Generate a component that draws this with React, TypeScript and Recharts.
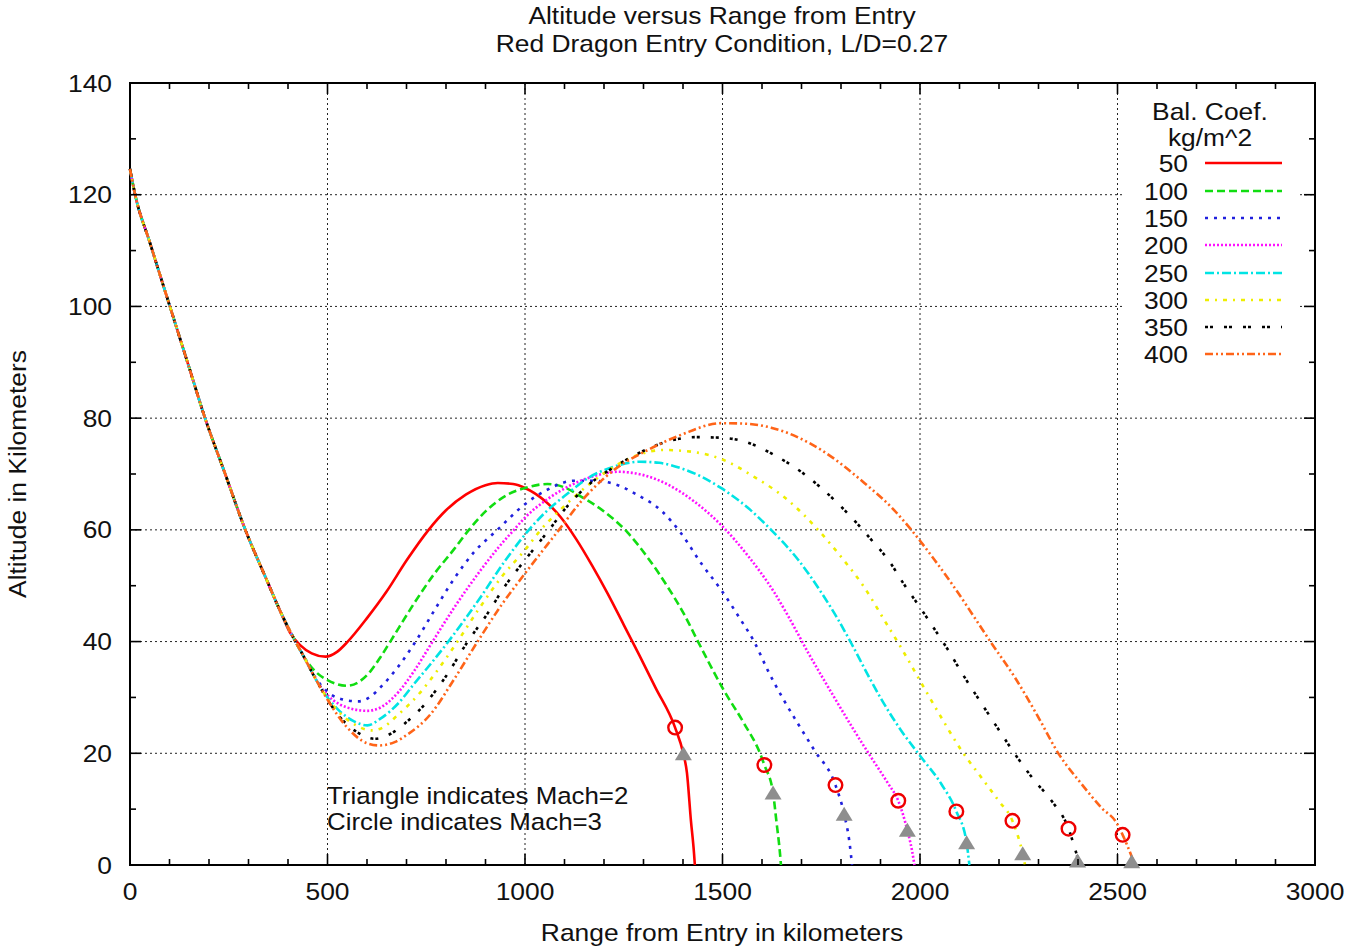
import {
  ComposedChart,
  Line,
  Scatter,
  XAxis,
  YAxis,
  CartesianGrid,
  Customized,
} from "recharts";

// range (km) / altitude (km) pairs
const entryDescent: [number, number][] = [
  [0, 124.6], [13, 120], [50, 111.5], [101, 100], [150, 89], [190, 80],
  [240, 70.2], [292, 60], [345, 51.2], [380, 45.5],
];

const bc50: [number, number][] = [
  [405, 41.6], [430, 39.4], [460, 37.9], [495, 37.3], [525, 38.2], [550, 39.9],
  [600, 44.2], [650, 49], [700, 54.5], [756, 60], [800, 63.5], [850, 66.3],
  [900, 68], [931, 68.4], [970, 68.2], [1000, 67.5], [1050, 65.2], [1090, 62.3],
  [1130, 58.3], [1170, 53.6], [1210, 48.5], [1250, 43], [1290, 37.5], [1330, 31.8],
  [1380, 24.6], [1401, 19.9], [1410, 16.5], [1420, 8], [1428, 2], [1430, 0],
];

const bc100: [number, number][] = [
  [410, 41.2], [440, 37.3], [470, 34.6], [500, 33.1], [550, 32.1], [580, 32.8],
  [610, 34.8], [634, 37.2], [659, 40], [718, 46.7], [769, 52], [820, 56.5],
  [858, 60], [900, 63.3], [956, 66.3], [1000, 67.5], [1057, 68.2], [1100, 67.6],
  [1141, 66], [1200, 63.3], [1260, 59.5], [1311, 55], [1362, 49.7], [1402, 45],
  [1438, 40], [1504, 31.2], [1555, 25.3], [1595, 20], [1606, 17.9], [1628, 12.9],
  [1637, 7.5], [1645, 2.5], [1648, 0],
];

const bc150: [number, number][] = [
  [410, 41.2], [440, 37.3], [470, 33.5], [500, 31], [540, 29.6], [578, 29.3],
  [610, 30.2], [634, 31.8], [680, 35.6], [723, 40], [769, 45.4], [820, 51.2],
  [871, 56], [930, 60], [1000, 64.6], [1057, 67.2], [1124, 68.8], [1174, 68.8],
  [1235, 68], [1286, 66.2], [1344, 63.5], [1395, 59.4], [1446, 54], [1496, 49.3],
  [1547, 43.8], [1580, 40], [1615, 34.8], [1653, 29.8], [1691, 25.3], [1732, 20.6],
  [1786, 14.3], [1808, 9.1], [1821, 4.3], [1828, 0],
];

const bc200: [number, number][] = [
  [410, 41.2], [440, 37.3], [470, 33.3], [500, 30.4], [530, 28.8], [565, 27.9],
  [600, 27.6], [634, 28.2], [680, 31], [720, 34.8], [766, 40], [820, 46],
  [888, 52.8], [930, 56.6], [972, 60], [1000, 62.2], [1057, 65.5], [1116, 68],
  [1174, 69.6], [1235, 70.4], [1300, 69.8], [1362, 68.1], [1428, 65.1], [1496, 60.9],
  [1565, 55.3], [1631, 48.8], [1666, 44.6], [1717, 38], [1783, 30], [1834, 24],
  [1877, 19.2], [1920, 14.5], [1945, 11.5], [1968, 6.2], [1980, 2.5], [1986, 0],
];

const bc250: [number, number][] = [
  [410, 41.2], [440, 37.3], [470, 33.3], [500, 30], [530, 27.6], [565, 25.8],
  [601, 25], [634, 26.2], [680, 29], [720, 32.5], [760, 35.9], [806, 40],
  [850, 44.2], [888, 48], [950, 54.5], [1010, 60], [1057, 63.5], [1108, 66.5],
  [1160, 69.3], [1225, 71.3], [1290, 72.2], [1340, 72], [1400, 70.9], [1450, 69.4],
  [1496, 67.5], [1565, 63.9], [1623, 60], [1692, 54.6], [1750, 48.8], [1793, 43.9],
  [1826, 39.7], [1869, 33.9], [1902, 29.7], [1953, 24], [2004, 19.2], [2054, 14.5],
  [2092, 9.6], [2118, 4], [2125, 0],
];

const bc300: [number, number][] = [
  [410, 41.2], [440, 37.3], [470, 33.3], [500, 29.8], [530, 27.3], [570, 25.1],
  [612, 24.1], [634, 24.4], [680, 27], [730, 30.5], [780, 35], [829, 40],
  [880, 45.5], [940, 51.5], [1000, 56.4], [1040, 60], [1100, 64.3], [1160, 68],
  [1225, 71.3], [1290, 73.5], [1350, 74.3], [1420, 74], [1496, 72.7], [1580, 69.5],
  [1666, 65.3], [1742, 60], [1801, 55.1], [1859, 49.7], [1910, 43.8], [1953, 38.8],
  [2004, 32.5], [2054, 26.4], [2105, 20.5], [2156, 15.6], [2199, 11.5], [2234, 7.9],
  [2260, 2], [2266, 0],
];

const bc350: [number, number][] = [
  [410, 41.2], [440, 37.3], [470, 33.3], [500, 29.6], [530, 26.6], [570, 24],
  [620, 22.6], [660, 23.5], [700, 25.6], [744, 28.6], [800, 33.8], [855, 40],
  [905, 45], [950, 50], [1000, 54.6], [1061, 60], [1108, 64.3], [1160, 68],
  [1225, 71.2], [1290, 73.8], [1360, 75.8], [1430, 76.6], [1496, 76.5], [1565, 75.6],
  [1631, 73.4], [1699, 70.4], [1750, 67.5], [1801, 64.1], [1844, 60.9], [1877, 58.2],
  [1920, 54.6], [1960, 50.2], [2004, 45.7], [2037, 42.2], [2072, 38.4], [2105, 34.5],
  [2156, 28.9], [2206, 23.5], [2240, 19.9], [2290, 15.1], [2333, 11.5], [2376, 6.5],
  [2392, 3], [2404, 0],
];

const bc400: [number, number][] = [
  [410, 41.2], [440, 37.3], [470, 33.3], [500, 29.6], [550, 24.6], [600, 21.8],
  [630, 21.4], [670, 22], [703, 23.4], [761, 27], [820, 33.2], [880, 40],
  [938, 46.3], [1000, 52.2], [1086, 60], [1141, 65], [1225, 70.7], [1311, 74.3],
  [1395, 77], [1496, 79.1], [1560, 79], [1623, 78.3], [1750, 74.3], [1859, 68.4],
  [1935, 63.5], [1978, 60], [2037, 54.6], [2087, 49.7], [2138, 44.3], [2181, 39.7],
  [2240, 33.6], [2300, 26.4], [2351, 19.9], [2409, 14.5], [2460, 10.2], [2498, 7.5],
  [2513, 5.4], [2536, 1.5], [2544, 0],
];

// Mach markers
const mach3Points: [number, number][] = [
  [1380, 24.6], [1606, 17.9], [1786, 14.3], [1945, 11.5],
  [2092, 9.6], [2234, 7.9], [2376, 6.5], [2513, 5.4],
];
const mach2Points: [number, number][] = [
  [1401, 19.9], [1628, 12.9], [1808, 9.1], [1968, 6.2],
  [2118, 4.0], [2260, 2.0], [2399, 0.7], [2536, 0.6],
];

const rangeTicks = [
  0, 100, 200, 300, 400, 500, 600, 700, 800, 900, 1000, 1100, 1200, 1300, 1400,
  1500, 1600, 1700, 1800, 1900, 2000, 2100, 2200, 2300, 2400, 2500, 2600, 2700,
  2800, 2900, 3000,
];
const altitudeTicks = [0, 10, 20, 30, 40, 50, 60, 70, 80, 90, 100, 110, 120, 130, 140];
const rangeGrid = [500, 1000, 1500, 2000, 2500];
const altitudeGrid = [20, 40, 60, 80, 100, 120];

const series = [
  { name: "50", pts: bc50, color: "#ff0000", dash: undefined },
  { name: "100", pts: bc100, color: "#11dd11", dash: "8 4" },
  { name: "150", pts: bc150, color: "#2020dd", dash: "3 6" },
  { name: "200", pts: bc200, color: "#ff10ff", dash: "2 2" },
  { name: "250", pts: bc250, color: "#00e4e4", dash: "9 3 2 3" },
  { name: "300", pts: bc300, color: "#eeee00", dash: "4 6 2 6" },
  { name: "350", pts: bc350, color: "#000000", dash: "3 2 3 11" },
  { name: "400", pts: bc400, color: "#ff6418", dash: "8 3 2 3 2 3" },
];

const W = 1347;
const H = 949;
const LEFT = 130;
const RIGHT = 1315;
const TOP = 83;
const BOTTOM = 865;
const FONT = "'Liberation Sans', Arial, Helvetica, sans-serif";

const toXY = (arr: [number, number][]) => arr.map(([x, y]) => ({ x, y }));

const Txt = ({ x, y, anchor = "middle", size = 24, rotate = false, children }: any) => (
  <text
    transform={`translate(${x},${y})${rotate ? " rotate(-90)" : ""} scale(1.1,1)`}
    textAnchor={anchor}
    fontSize={size}
    fontFamily={FONT}
    fill="#111"
  >
    {children}
  </text>
);

const XTick = (props: any) => {
  const { x, payload } = props;
  const v = payload.value;
  const major = v % 500 === 0;
  const len = major ? 11 : 6;
  return (
    <g>
      <line x1={x} x2={x} y1={BOTTOM} y2={BOTTOM - len} stroke="#000" strokeWidth={1.6} />
      <line x1={x} x2={x} y1={TOP} y2={TOP + len} stroke="#000" strokeWidth={1.6} />
      {major && (
        <Txt x={x} y={900}>
          {v}
        </Txt>
      )}
    </g>
  );
};

const YTick = (props: any) => {
  const { y, payload } = props;
  const v = payload.value;
  const major = v % 20 === 0;
  const len = major ? 11 : 6;
  return (
    <g>
      <line x1={LEFT} x2={LEFT + len} y1={y} y2={y} stroke="#000" strokeWidth={1.6} />
      <line x1={RIGHT} x2={RIGHT - len} y1={y} y2={y} stroke="#000" strokeWidth={1.6} />
      {major && (
        <Txt x={112} y={y + 8.5} anchor="end">
          {v}
        </Txt>
      )}
    </g>
  );
};

const CircleMark = (p: any) => (
  <circle cx={p.cx} cy={p.cy} r={6.8} fill="none" stroke="#ee0000" strokeWidth={2.4} />
);
const TriMark = (p: any) => (
  <polygon
    points={`${p.cx},${p.cy - 7.5} ${p.cx - 8.5},${p.cy + 6.5} ${p.cx + 8.5},${p.cy + 6.5}`}
    fill="#8e8e8e"
  />
);

const LegendBox = () => {
  const rows = [163, 191, 218, 245, 273, 300, 327, 354];
  return (
    <g>
      <rect x={1124} y={92} width={174} height={276} fill="#fff" />
      <Txt x={1210} y={120}>Bal. Coef.</Txt>
      <Txt x={1210} y={146}>kg/m^2</Txt>
      {series.map((s, i) => (
        <g key={s.name}>
          <Txt x={1188} y={rows[i] + 8.5} anchor="end">
            {s.name}
          </Txt>
          <line
            x1={1205}
            x2={1282}
            y1={rows[i]}
            y2={rows[i]}
            stroke={s.color}
            strokeWidth={2.6}
            strokeDasharray={s.dash}
          />
        </g>
      ))}
    </g>
  );
};

const Frame = () => (
  <g>
    <rect x={LEFT} y={TOP} width={RIGHT - LEFT} height={BOTTOM - TOP} fill="none" stroke="#000" strokeWidth={2} />
    <Txt x={722} y={24}>Altitude versus Range from Entry</Txt>
    <Txt x={722} y={52}>Red Dragon Entry Condition, L/D=0.27</Txt>
    <Txt x={722} y={941}>Range from Entry in kilometers</Txt>
    <Txt x={26} y={474} rotate>
      Altitude in Kilometers
    </Txt>
    <Txt x={327} y={804} anchor="start" size={23.5}>Triangle indicates Mach=2</Txt>
    <Txt x={327} y={830} anchor="start" size={23.5}>Circle indicates Mach=3</Txt>
  </g>
);

export default function App() {
  return (
    <div style={{ position: "absolute", left: 0, top: 0, background: "#fff" }}>
      <ComposedChart
        width={W}
        height={H}
        margin={{ top: TOP, right: W - RIGHT, bottom: 0, left: 0 }}
      >
        <CartesianGrid
          stroke="#222"
          strokeDasharray="2 3"
          strokeWidth={1}
          verticalValues={rangeGrid}
          horizontalValues={altitudeGrid}
        />
        <XAxis
          type="number"
          dataKey="x"
          domain={[0, 3000]}
          ticks={rangeTicks}
          interval={0}
          height={H - BOTTOM}
          axisLine={false}
          tickLine={false}
          tick={<XTick />}
        />
        <YAxis
          type="number"
          dataKey="y"
          domain={[0, 140]}
          ticks={altitudeTicks}
          interval={0}
          width={LEFT}
          axisLine={false}
          tickLine={false}
          tick={<YTick />}
        />
        <Customized component={LegendBox} />
        {series.map((s) => (
          <Line
            key={s.name}
            data={toXY([...entryDescent, ...s.pts])}
            dataKey="y"
            type="monotone"
            stroke={s.color}
            strokeWidth={2.6}
            strokeDasharray={s.dash}
            dot={false}
            activeDot={false}
            isAnimationActive={false}
          />
        ))}
        <Scatter data={toXY(mach3Points)} dataKey="y" shape={CircleMark} isAnimationActive={false} />
        <Scatter data={toXY(mach2Points)} dataKey="y" shape={TriMark} isAnimationActive={false} />
        <Customized component={Frame} />
      </ComposedChart>
    </div>
  );
}
